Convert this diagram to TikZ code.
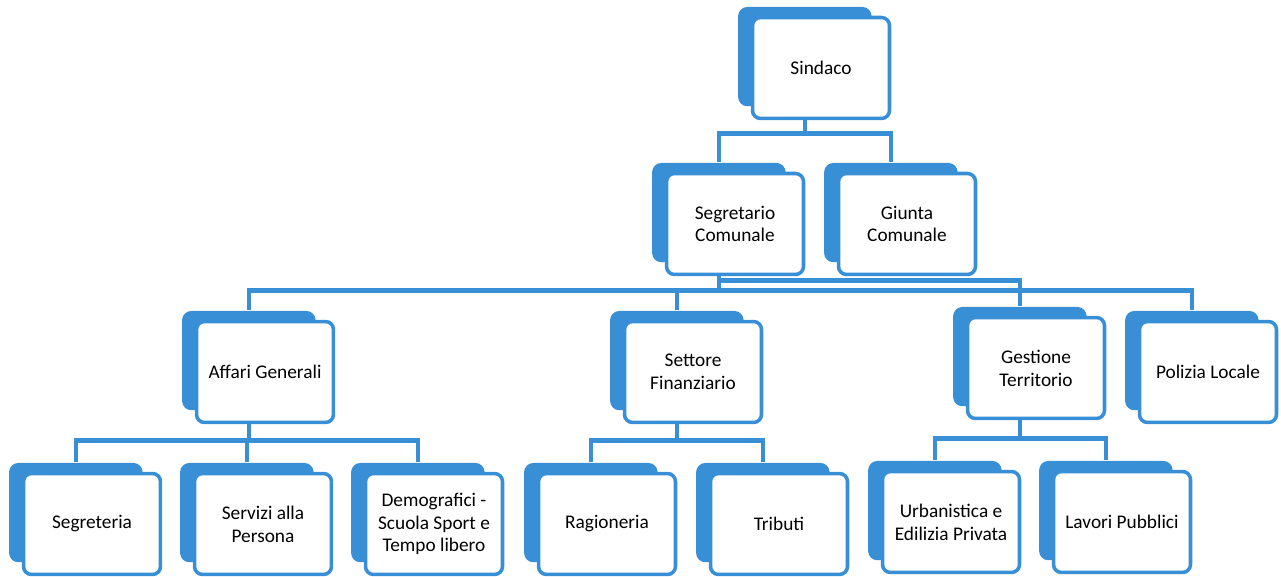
\documentclass[tikz,border=0pt]{standalone}
\usepackage{fontspec}
\setmainfont{Carlito}
\usetikzlibrary{shadows,backgrounds}
\definecolor{orgblue}{RGB}{56,143,214}
\tikzset{
  ufficio/.style={draw=orgblue, line width=2pt, fill=white, rounded corners=0.16cm,
    minimum width=2.74cm, minimum height=2.02cm, align=center, inner sep=2pt,
    font=\fontsize{11}{13}\selectfont,
    copy shadow={shadow xshift=-0.34cm, shadow yshift=0.24cm, shadow scale=0.95,
      fill=orgblue, draw=orgblue}},
  linea/.style={draw=orgblue, line width=2.7pt}
}

\begin{document}
\begin{tikzpicture}[x=0.02cm, y=-0.02cm]
  \useasboundingbox (0,0) rectangle (1281,577);
  % vertice
  \node[ufficio] (sindaco) at (821,68) {Sindaco};
  \node[ufficio] (segretario) at (735,224) {Segretario\\Comunale};
  \node[ufficio] (giunta) at (907,224) {Giunta\\Comunale};
  % settori
  \node[ufficio] (affari) at (265,372) {Affari Generali};
  \node[ufficio] (finanziario) at (693,372) {Settore\\Finanziario};
  \node[ufficio] (gestione) at (1036,368) {Gestione\\Territorio};
  \node[ufficio] (polizia) at (1208,372) {Polizia Locale};
  % uffici
  \node[ufficio] (segreteria) at (92,524) {Segreteria};
  \node[ufficio] (servizi) at (263,524) {Servizi alla\\Persona};
  \node[ufficio] (demografici) at (434,524) {Demografici -\\Scuola Sport e\\Tempo libero};
  \node[ufficio] (ragioneria) at (607,524) {Ragioneria};
  \node[ufficio] (tributi) at (779,524) {Tributi};
  \node[ufficio] (urbanistica) at (951,522) {Urbanistica e\\Edilizia Privata};
  \node[ufficio] (lavori) at (1122,522) {Lavori Pubblici};

  % punti di aggancio (centro del riquadro dietro)
  \foreach \n in {sindaco,segretario,giunta,affari,finanziario,gestione,polizia,
      segreteria,servizi,demografici,ragioneria,tributi,urbanistica,lavori} {
    \coordinate (\n-n) at ([xshift=-0.32cm,yshift=0.2cm]\n.north);
    \coordinate (\n-s) at ([xshift=-0.32cm]\n.south);
  }

  \begin{scope}[on background layer]
    \draw[linea] (sindaco-s) -- ++(0,13) coordinate (b0) -| (segretario-n)
      (b0) -| (giunta-n);
    \draw[linea] (segretario-s) -- ++(0,4) -| (gestione-n);
    \draw[linea] (segretario-s) -- ++(0,14) coordinate (b1) -| (affari-n)
      (b1) -| (finanziario-n) (b1) -| (polizia-n);
    \draw[linea] (affari-s) -- ++(0,16) coordinate (b2) -| (segreteria-n)
      (b2) -| (servizi-n) (b2) -| (demografici-n);
    \draw[linea] (finanziario-s) -- ++(0,16) coordinate (b3) -| (ragioneria-n)
      (b3) -| (tributi-n);
    \draw[linea] (gestione-s) -- ++(0,18) coordinate (b4) -| (urbanistica-n)
      (b4) -| (lavori-n);
  \end{scope}
\end{tikzpicture}
\end{document}
